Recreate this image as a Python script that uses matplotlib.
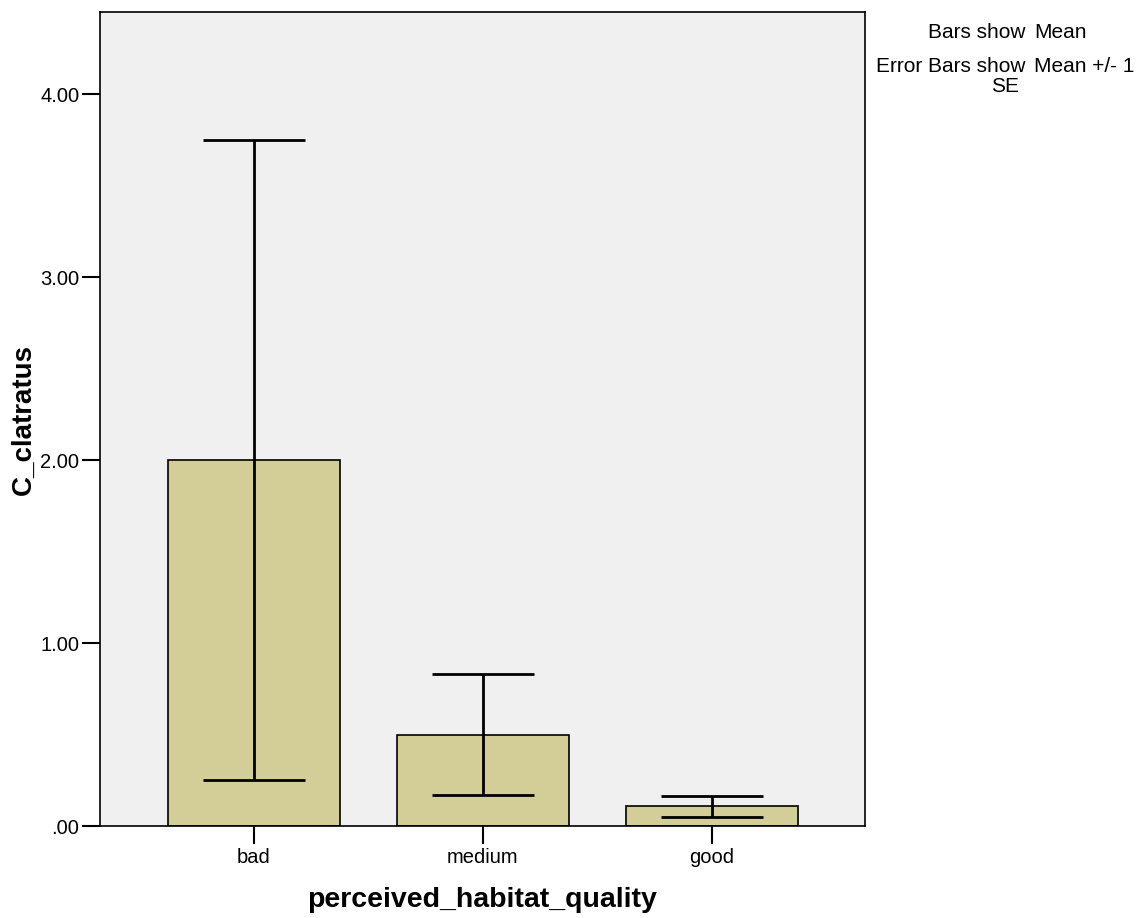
import matplotlib
matplotlib.use("Agg")
import matplotlib.pyplot as plt

categories = ["bad", "medium", "good"]
means = [2.00, 0.50, 0.107]
se = [1.75, 0.333, 0.058]

plt.rcParams["font.family"] = ["Liberation Sans", "DejaVu Sans"]

fig = plt.figure(figsize=(11.4, 9.18), dpi=100)
ax = fig.add_axes([0.0877, 0.1002, 0.6711, 0.8867])
ax.set_facecolor("#F0F0F0")

x = range(len(categories))
ax.bar(x, means, width=0.75, color="#D3CE97", edgecolor="black", linewidth=1.2, zorder=2)
ax.errorbar(x, means, yerr=se, fmt="none", ecolor="black", elinewidth=2,
            capsize=37, capthick=2, zorder=3)

ax.set_xlim(-0.672, 2.668)
ax.set_ylim(0, 4.448)
ax.set_yticks([0, 1, 2, 3, 4])
ax.set_yticklabels([".00", "1.00", "2.00", "3.00", "4.00"])
ax.set_xticks(list(x))
ax.set_xticklabels(categories)
ax.tick_params(axis="both", direction="out", length=13, width=1.5, labelsize=14.5, pad=2)
ax.tick_params(axis="x", pad=3)
for s in ax.spines.values():
    s.set_linewidth(1.2)

ax.set_ylabel("C_clatratus", fontsize=20, fontweight="bold", labelpad=2)
ax.set_xlabel("perceived_habitat_quality", fontsize=20.5, fontweight="bold", labelpad=14)

fs = 15
fig.text(1025 / 1140, 1 - 32 / 918, "Bars show", ha="right", va="center", fontsize=fs)
fig.text(1034 / 1140, 1 - 32 / 918, "Mean", ha="left", va="center", fontsize=fs)
fig.text(1025 / 1140, 1 - 66 / 918, "Error Bars show", ha="right", va="center", fontsize=fs)
fig.text(1034 / 1140, 1 - 66 / 918, "Mean +/- 1", ha="left", va="center", fontsize=fs)
fig.text(1005 / 1140, 1 - 86 / 918, "SE", ha="center", va="center", fontsize=fs)

fig.savefig("out.png", dpi=100)
